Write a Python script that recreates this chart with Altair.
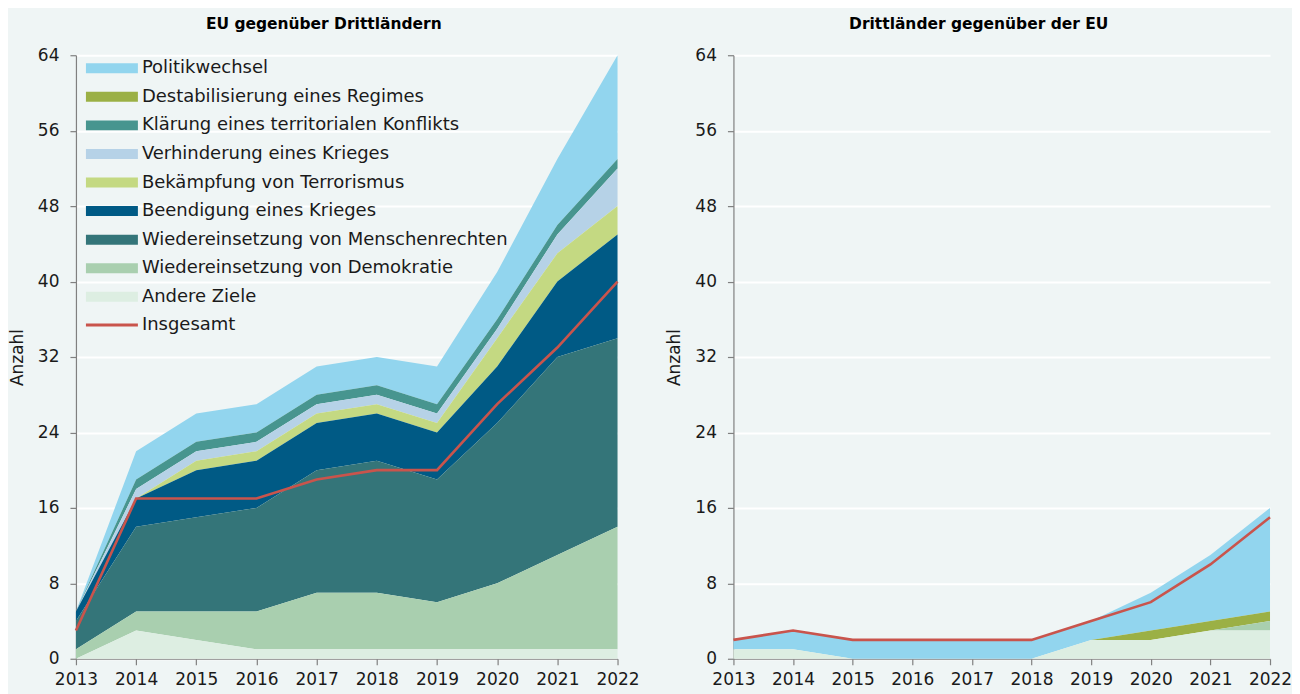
import altair as alt
import pandas as pd

years = [2013, 2014, 2015, 2016, 2017, 2018, 2019, 2020, 2021, 2022]

# legend order (top to bottom)
categories = [
    "Politikwechsel",
    "Destabilisierung eines Regimes",
    "Klärung eines territorialen Konflikts",
    "Verhinderung eines Krieges",
    "Bekämpfung von Terrorismus",
    "Beendigung eines Krieges",
    "Wiedereinsetzung von Menschenrechten",
    "Wiedereinsetzung von Demokratie",
    "Andere Ziele",
]
colors = [
    "#92D5EE", "#9BB045", "#47958F", "#B6D2E7", "#C4D982",
    "#005A85", "#347579", "#A9CFAF", "#DDEEE2",
]
total_label = "Insgesamt"
total_color = "#C9544C"

# EU gegenüber Drittländern
left_politik = [0, 3, 3, 3, 3, 3, 4, 5, 7, 11]
left_destab = [0, 0, 0, 0, 0, 0, 0, 0, 0, 0]
left_klaerung = [0, 1, 1, 1, 1, 1, 1, 1, 1, 1]
left_verhinderung = [0, 1, 1, 1, 1, 1, 1, 1, 2, 4]
left_terror = [0, 0, 1, 1, 1, 1, 1, 3, 3, 3]
left_beendigung = [1, 3, 5, 5, 5, 5, 5, 6, 8, 11]
left_menschen = [3, 9, 10, 11, 13, 14, 13, 17, 21, 20]
left_demokratie = [1, 2, 3, 4, 6, 6, 5, 7, 10, 13]
left_andere = [0, 3, 2, 1, 1, 1, 1, 1, 1, 1]
left_total = [3, 17, 17, 17, 19, 20, 20, 27, 33, 40]

# Drittländer gegenüber der EU
right_politik = [1, 2, 2, 2, 2, 2, 2, 4, 7, 11]
right_destab = [0, 0, 0, 0, 0, 0, 0, 1, 1, 1]
right_klaerung = [0, 0, 0, 0, 0, 0, 0, 0, 0, 0]
right_verhinderung = [0, 0, 0, 0, 0, 0, 0, 0, 0, 0]
right_terror = [0, 0, 0, 0, 0, 0, 0, 0, 0, 0]
right_beendigung = [0, 0, 0, 0, 0, 0, 0, 0, 0, 0]
right_menschen = [0, 0, 0, 0, 0, 0, 0, 0, 0, 0]
right_demokratie = [0, 0, 0, 0, 0, 0, 0, 0, 0, 1]
right_andere = [1, 1, 0, 0, 0, 0, 2, 2, 3, 3]
right_total = [2, 3, 2, 2, 2, 2, 4, 6, 10, 15]

y_ticks = [0, 8, 16, 24, 32, 40, 48, 56, 64]

FONT = "DejaVu Sans"
BG = "#EFF5F5"


def long_df(series_list):
    rows = []
    for i, (cat, vals) in enumerate(zip(categories, series_list)):
        rank = len(categories) - 1 - i  # Andere at bottom
        for yr, v in zip(years, vals):
            rows.append({"year": yr, "category": cat, "value": v, "rank": rank})
    return pd.DataFrame(rows)


def total_df(vals):
    return pd.DataFrame({"year": years, "value": vals, "series": [total_label] * len(years)})


left_df = long_df([left_politik, left_destab, left_klaerung, left_verhinderung, left_terror,
                   left_beendigung, left_menschen, left_demokratie, left_andere])
right_df = long_df([right_politik, right_destab, right_klaerung, right_verhinderung, right_terror,
                    right_beendigung, right_menschen, right_demokratie, right_andere])

x_axis = alt.Axis(values=years, format="d", title=None, grid=False, domainColor="#808080",
                  tickColor="#808080", tickSize=6, labelPadding=7, labelFontSize=17,
                  labelFont=FONT, labelColor="#1a1a1a", domainWidth=1.2, tickWidth=1.2,
                  labelAngle=0, labelFlush=False, labelOverlap=False)
y_axis = alt.Axis(values=y_ticks, title="Anzahl", grid=True, gridColor="#FFFFFF", gridWidth=2,
                  domainColor="#808080", tickColor="#808080", tickSize=6, labelPadding=11,
                  labelFontSize=17, labelFont=FONT, labelColor="#1a1a1a", titleFont=FONT,
                  titleFontSize=17, titleFontWeight="normal", titlePadding=11,
                  titleColor="#1a1a1a", domainWidth=1.2, tickWidth=1.2,
                  labelFlush=False, labelOverlap=False)

x_scale = alt.Scale(domain=[2013, 2022], nice=False, zero=False)
y_scale = alt.Scale(domain=[0, 64], nice=False)


def panel(df, tot, title, show_legend, width):
    if show_legend:
        fill_legend = alt.Legend(orient="none", legendX=27, legendY=4, title=None,
                                 symbolType="M-5.2,-1H5.2V1H-5.2Z", symbolSize=100,
                                 symbolStrokeWidth=0, labelFontSize=18, labelFont=FONT,
                                 labelColor="#1a1a1a", labelOffset=21, rowPadding=10.6,
                                 symbolOpacity=1, labelLimit=0)
        stroke_legend = alt.Legend(orient="none", legendX=27, legendY=261, title=None,
                                   symbolType="M-5.2,0H5.2", symbolSize=100,
                                   symbolStrokeWidth=3, labelFontSize=18, labelFont=FONT,
                                   labelColor="#1a1a1a", labelOffset=21, labelLimit=0)
    else:
        fill_legend = None
        stroke_legend = None

    area = alt.Chart(df).mark_area(interpolate="linear", opacity=1).encode(
        x=alt.X("year:Q", scale=x_scale, axis=x_axis),
        y=alt.Y("value:Q", stack="zero", scale=y_scale, axis=y_axis),
        fill=alt.Fill("category:N", scale=alt.Scale(domain=categories, range=colors),
                      legend=fill_legend),
        order=alt.Order("rank:Q", sort="ascending"),
    )
    line = alt.Chart(tot).mark_line(strokeWidth=2.6, interpolate="linear").encode(
        x=alt.X("year:Q", scale=x_scale, axis=x_axis),
        y=alt.Y("value:Q", scale=y_scale, axis=y_axis),
        stroke=alt.Stroke("series:N", scale=alt.Scale(domain=[total_label], range=[total_color]),
                          legend=stroke_legend),
    )
    return alt.layer(area, line).properties(
        width=width, height=604,
        title=alt.TitleParams(title, font=FONT, fontSize=15.5, fontWeight="bold",
                              anchor="middle", frame="bounds", color="#000000", offset=14),
    )


left = panel(left_df, total_df(left_total), "EU gegenüber Drittländern", True, 542)
right = panel(right_df, total_df(right_total), "Drittländer gegenüber der EU", False, 537)

chart = alt.hconcat(left, right, spacing=26).resolve_scale(
    fill="independent", stroke="independent"
).configure(
    background=BG,
    padding={"left": 0, "top": 8, "right": 0, "bottom": 6},
).configure_view(stroke=None)

chart.save("out.html", embed_options={"renderer": "svg", "actions": False})
